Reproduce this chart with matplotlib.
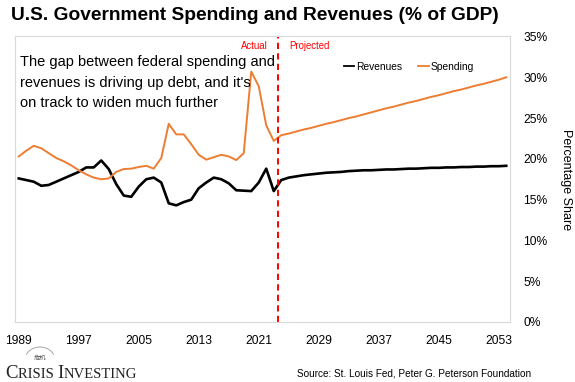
import matplotlib
matplotlib.use('Agg')
import matplotlib.pyplot as plt
from matplotlib import font_manager
from matplotlib.patches import Arc

# ---------------- data ----------------
years = list(range(1989, 2055))
revenues = [17.6, 17.4, 17.2, 16.7, 16.8, 17.2, 17.6, 18.0, 18.4, 18.95,
            18.95, 19.8, 18.75, 16.9, 15.5, 15.35, 16.6, 17.5, 17.7, 17.1,
            14.55, 14.3, 14.7, 15.0, 16.4, 17.1, 17.7, 17.5, 17.0, 16.15,
            16.1, 16.05, 17.1, 18.8, 16.05, 17.4, 17.7, 17.85, 18.0, 18.1,
            18.2, 18.3, 18.35, 18.4, 18.5, 18.55, 18.6, 18.6, 18.65, 18.7,
            18.7, 18.75, 18.8, 18.8, 18.85, 18.9, 18.9, 18.95, 18.95, 19.0,
            19.0, 19.05, 19.05, 19.1, 19.1, 19.15]
spending = [20.3, 21.0, 21.6, 21.3, 20.7, 20.1, 19.7, 19.2, 18.6, 18.1,
            17.7, 17.5, 17.6, 18.4, 18.75, 18.8, 19.0, 19.15, 18.8, 20.1,
            24.3, 23.0, 23.0, 21.8, 20.5, 19.9, 20.2, 20.5, 20.3, 19.85,
            20.7, 30.7, 28.9, 24.1, 22.2, 22.9, 23.1, 23.35, 23.6, 23.8,
            24.05, 24.3, 24.5, 24.75, 25.0, 25.2, 25.45, 25.7, 25.95, 26.2,
            26.4, 26.65, 26.9, 27.1, 27.35, 27.6, 27.8, 28.05, 28.3, 28.5,
            28.75, 29.0, 29.2, 29.45, 29.7, 30.0]
x_tick_years = [1989, 1997, 2005, 2013, 2021, 2029, 2037, 2045, 2053]
y_ticks = [0, 5, 10, 15, 20, 25, 30, 35]
y_tick_labels = ['0%', '5%', '10%', '15%', '20%', '25%', '30%', '35%']
projection_start = 2023.5

title = 'U.S. Government Spending and Revenues (% of GDP)'
note = ("The gap between federal spending and\n"
        "revenues is driving up debt, and it's\n"
        "on track to widen much further")
source = 'Source: St. Louis Fed, Peter G. Peterson Foundation'

# ---------------- fonts ----------------
names = {f.name for f in font_manager.fontManager.ttflist}
if 'Liberation Sans Narrow' in names:
    SANS = ['Liberation Sans Narrow', 'DejaVu Sans']
    k = 1.0
else:
    SANS = ['Liberation Sans', 'DejaVu Sans']
    k = 0.82
SERIF = ['Liberation Serif', 'DejaVu Serif']

W, H = 575, 382
fig = plt.figure(figsize=(W / 100, H / 100), dpi=100)


def fx(px):
    return px / W


def fy(py):
    return 1 - py / H


ax = fig.add_axes([fx(15), fy(322), (510 - 15) / W, (322 - 36.5) / H])

ORANGE = '#ED7D31'
ax.plot(years, revenues, color='black', lw=1.9, label='Revenues')
ax.plot(years, spending, color=ORANGE, lw=1.4, label='Spending')
ax.axvline(projection_start, color='#FF0000', lw=1.4, ls=(0, (3.2, 2.2)))

ax.set_xlim(1988.5, 2054.5)
ax.set_ylim(0, 35)
ax.set_xticks(x_tick_years)
ax.set_xticklabels([str(y) for y in x_tick_years])
ax.set_yticks(y_ticks)
ax.set_yticklabels(y_tick_labels)
ax.yaxis.tick_right()
ax.tick_params(axis='y', length=0, pad=9.5)
ax.tick_params(axis='x', length=0, pad=9.5)
for lab in ax.get_xticklabels() + ax.get_yticklabels():
    lab.set_family(SANS)
    lab.set_fontsize(10.5 * k)
for lab in ax.get_yticklabels():
    lab.set_ha('left')
for s in ax.spines.values():
    s.set_color('#d9d9d9')
    s.set_linewidth(0.8)

leg = ax.legend(loc='upper left', bbox_to_anchor=(fx(344), fy(62)),
                bbox_transform=fig.transFigure, ncol=2, frameon=False,
                handlelength=1.0, handletextpad=0.15, columnspacing=1.6,
                borderaxespad=0, borderpad=0,
                prop={'family': SANS, 'size': 9 * k})
for h in leg.get_lines():
    h.set_linewidth(1.3)

# texts
fig.text(fx(11), fy(16), title, ha='left', va='center', weight='bold',
         family=SANS, fontsize=16.8 * k)
fig.text(fx(20), fy(55), note, ha='left', va='top', family=SANS,
         fontsize=12.8 * k, linespacing=1.6)
fig.text(fx(268), fy(46), 'Actual', ha='right', va='center', color='#FF0000',
         family=SANS, fontsize=8.5 * k)
fig.text(fx(289), fy(46), 'Projected', ha='left', va='center',
         color='#FF0000', family=SANS, fontsize=8.5 * k)
fig.text(fx(566), fy(180), 'Percentage Share', rotation=270, ha='center',
         va='center', family=SANS, fontsize=11 * k)
fig.text(fx(297), fy(374), source, ha='left', va='center', family=SANS,
         fontsize=8.8 * k)

# logo: small-caps wordmark
renderer = fig.canvas.get_renderer()
pieces = [('C', 13.5), ('RISIS ', 10.5), ('I', 13.5), ('NVESTING', 10.5)]
xcur = 5
for txt, sz in pieces:
    t = fig.text(fx(xcur), fy(378), txt, ha='left', va='baseline',
                 family=SERIF, fontsize=sz, color='#222222')
    bb = t.get_window_extent(renderer=renderer)
    xcur += bb.width
fig.patches.append(Arc((fx(40), fy(360)), 30 / W, 26 / H, theta1=30,
                       theta2=150, color='#999999', lw=0.6,
                       transform=fig.transFigure))
fig.text(fx(40), fy(358), '危机', ha='center', va='center', fontsize=4.5,
         family=['Noto Sans CJK SC', 'DejaVu Sans'], color='#555555')

fig.savefig('out.png', dpi=100)
